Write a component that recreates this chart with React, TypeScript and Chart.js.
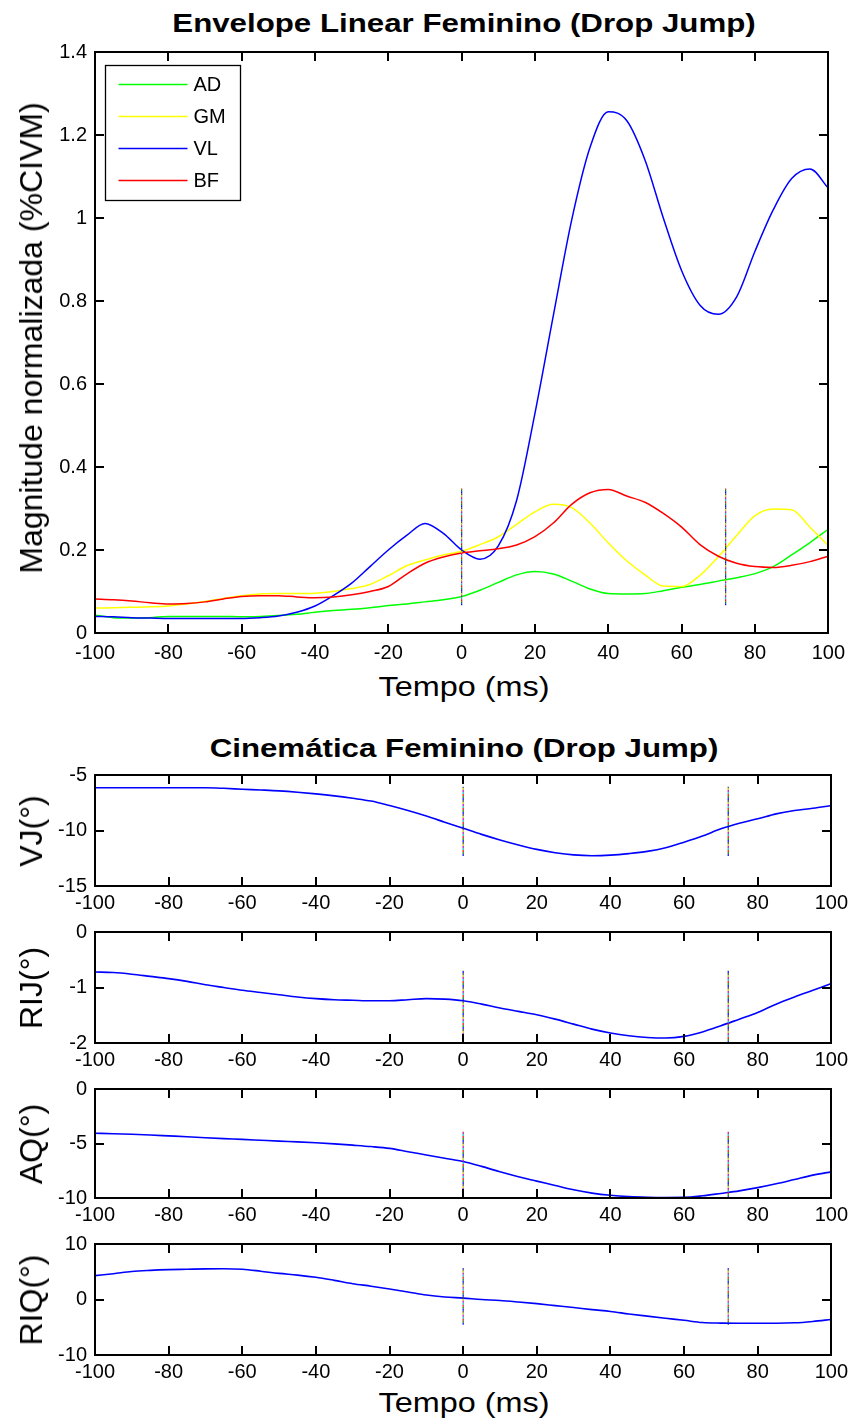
import React, { useEffect, useRef } from 'react';
import { Chart, registerables } from 'chart.js';

Chart.register(...registerables);

const FONT = '"Liberation Sans", Arial, Helvetica, sans-serif';

// ---------- data ----------
const TIME = [-100, -95, -90, -85, -80, -75, -70, -65, -60, -55, -50, -45, -40, -35, -30, -25, -20, -15, -10, -5, 0,
  5, 10, 15, 20, 25, 30, 35, 40, 45, 50, 55, 60, 65, 70, 75, 80, 85, 90, 95, 100];

const AD = [0.043, 0.037, 0.036, 0.037, 0.040, 0.040, 0.040, 0.040, 0.039, 0.040, 0.042, 0.045, 0.050, 0.054, 0.057,
  0.061, 0.066, 0.070, 0.075, 0.080, 0.088, 0.103, 0.122, 0.140, 0.148, 0.142, 0.125, 0.106, 0.095, 0.094, 0.095,
  0.102, 0.110, 0.117, 0.125, 0.133, 0.143, 0.160, 0.188, 0.218, 0.250];
const GM = [0.060, 0.061, 0.062, 0.063, 0.065, 0.070, 0.076, 0.083, 0.090, 0.094, 0.095, 0.095, 0.096, 0.100, 0.107,
  0.117, 0.138, 0.162, 0.176, 0.188, 0.197, 0.213, 0.232, 0.262, 0.292, 0.310, 0.302, 0.265, 0.217, 0.174, 0.140,
  0.113, 0.112, 0.139, 0.184, 0.235, 0.283, 0.299, 0.297, 0.255, 0.210];
const VL = [0.040, 0.039, 0.037, 0.036, 0.035, 0.035, 0.035, 0.035, 0.035, 0.037, 0.041, 0.050, 0.065, 0.090, 0.120,
  0.160, 0.200, 0.235, 0.264, 0.240, 0.200, 0.178, 0.210, 0.320, 0.530, 0.765, 0.995, 1.170, 1.256, 1.235, 1.140,
  1.000, 0.873, 0.790, 0.768, 0.810, 0.920, 1.020, 1.095, 1.118, 1.072];
const BF = [0.082, 0.080, 0.077, 0.073, 0.070, 0.071, 0.075, 0.082, 0.088, 0.090, 0.090, 0.087, 0.085, 0.087, 0.092,
  0.100, 0.112, 0.142, 0.168, 0.183, 0.193, 0.198, 0.203, 0.212, 0.232, 0.265, 0.310, 0.338, 0.346, 0.330, 0.315,
  0.288, 0.255, 0.213, 0.185, 0.168, 0.160, 0.158, 0.163, 0.172, 0.185];

const VJ = [-6.15, -6.15, -6.15, -6.15, -6.15, -6.15, -6.15, -6.2, -6.28, -6.35, -6.43, -6.55, -6.7, -6.88, -7.1,
  -7.35, -7.75, -8.2, -8.7, -9.25, -9.8, -10.35, -10.85, -11.3, -11.7, -12.0, -12.2, -12.27, -12.22, -12.08, -11.88,
  -11.55, -11.05, -10.5, -9.85, -9.35, -8.95, -8.5, -8.2, -8.0, -7.75];
const RIJ = [-0.72, -0.73, -0.76, -0.80, -0.84, -0.89, -0.95, -1.00, -1.05, -1.09, -1.13, -1.17, -1.20, -1.22, -1.23,
  -1.24, -1.24, -1.22, -1.20, -1.21, -1.24, -1.30, -1.37, -1.43, -1.49, -1.57, -1.66, -1.75, -1.82, -1.87, -1.90,
  -1.91, -1.88, -1.80, -1.69, -1.57, -1.45, -1.30, -1.17, -1.05, -0.93];
const AQ = [-4.06, -4.10, -4.15, -4.22, -4.30, -4.38, -4.47, -4.55, -4.62, -4.70, -4.78, -4.85, -4.93, -5.03, -5.15,
  -5.28, -5.45, -5.75, -6.05, -6.35, -6.65, -7.10, -7.60, -8.05, -8.45, -8.85, -9.25, -9.55, -9.75, -9.87, -9.93,
  -9.95, -9.94, -9.80, -9.58, -9.35, -9.05, -8.70, -8.30, -7.90, -7.60];
const RIQ = [4.3, 4.65, 5.05, 5.25, 5.38, 5.45, 5.52, 5.55, 5.45, 5.1, 4.7, 4.4, 4.0, 3.45, 2.85, 2.4, 1.9, 1.35, 0.8,
  0.45, 0.25, 0.0, -0.18, -0.45, -0.75, -1.1, -1.45, -1.83, -2.15, -2.6, -3.0, -3.38, -3.75, -4.15, -4.25, -4.27,
  -4.27, -4.27, -4.2, -3.95, -3.6];

// event marker lines (contact / take-off)
const EVENT_TIMES = [0, 72];
const MAIN_EVENT_RANGE = [0.067, 0.348];
const VJ_EVENT_RANGE = [-12.3, -6.05];
const RIJ_EVENT_RANGE = [-2.0, -0.7];
const AQ_EVENT_RANGE = [-10, -3.9];
const RIQ_EVENT_RANGE = [-4.57, 5.67];
const MARKER_COLORS = ['#0000ff', '#008000', '#ff0000', '#00bfbf', '#bf00bf', '#bfbf00', '#404040'];

// tick labels
const X_TICKS = [-100, -80, -60, -40, -20, 0, 20, 40, 60, 80, 100];
const MAIN_Y_TICKS = [0, 0.2, 0.4, 0.6, 0.8, 1, 1.2, 1.4];
const VJ_Y_TICKS = [-15, -10, -5];
const RIJ_Y_TICKS = [-2, -1, 0];
const AQ_Y_TICKS = [-10, -5, 0];
const RIQ_Y_TICKS = [-10, 0, 10];

const MUSCLE_NAMES = ['AD', 'GM', 'VL', 'BF'];
const MUSCLE_COLORS = ['#00ff00', '#ffff00', '#0000ff', '#ff0000'];
const MUSCLE_SERIES = [AD, GM, VL, BF];

// ---------- helpers ----------
function series(values: number[]) {
  return TIME.map((t, i) => ({ x: t, y: values[i] }));
}

function markerDatasets(range: number[]) {
  const [lo, hi] = range;
  return MARKER_COLORS.map((c, i) => ({
    label: '',
    isMarker: true,
    data: [
      { x: EVENT_TIMES[0], y: lo },
      { x: EVENT_TIMES[0], y: hi },
      { x: (EVENT_TIMES[0] + EVENT_TIMES[1]) / 2, y: null },
      { x: EVENT_TIMES[1], y: lo },
      { x: EVENT_TIMES[1], y: hi },
    ],
    borderColor: c,
    borderWidth: 1.2,
    borderDash: [2, 12],
    borderDashOffset: -i * 2,
    pointRadius: 0,
    tension: 0,
    spanGaps: false,
    order: -1,
  }));
}

function makeFramePlugin(yTicks: number[]) {
  return {
    id: 'matlabFrame',
    afterDraw(chart: any) {
      const ctx = chart.ctx as CanvasRenderingContext2D;
      const area = chart.chartArea;
      const xs = chart.scales.x;
      const ys = chart.scales.y;
      const L = Math.round(area.left);
      const R = Math.round(area.right);
      const T = Math.round(area.top);
      const B = Math.round(area.bottom);
      const tl = 9;
      ctx.save();
      ctx.setLineDash([]);
      ctx.fillStyle = '#000';
      // frame (2px)
      ctx.fillRect(L - 1, T - 1, R - L + 2, 2);
      ctx.fillRect(L - 1, B - 1, R - L + 2, 2);
      ctx.fillRect(L - 1, T - 1, 2, B - T + 2);
      ctx.fillRect(R - 1, T - 1, 2, B - T + 2);
      // inward tick marks
      X_TICKS.forEach((v) => {
        const px = Math.round(xs.getPixelForValue(v));
        ctx.fillRect(px - 1, B - tl, 2, tl);
        ctx.fillRect(px - 1, T, 2, tl);
      });
      yTicks.forEach((v) => {
        const py = Math.round(ys.getPixelForValue(v));
        ctx.fillRect(L, py - 1, tl, 2);
        ctx.fillRect(R - tl, py - 1, tl, 2);
      });
      ctx.restore();
    },
  };
}

const boxLegendPlugin = {
  id: 'boxLegend',
  afterDatasetsDraw(chart: any) {
    const { ctx, chartArea } = chart;
    const items = chart.data.datasets.filter((d: any) => !d.isMarker);
    const bx = Math.round(chartArea.left) + 10.5;
    const by = Math.round(chartArea.top) + 13.5;
    const bw = 135;
    const bh = 135;
    ctx.save();
    ctx.fillStyle = '#fff';
    ctx.fillRect(bx, by, bw, bh);
    ctx.strokeStyle = '#000';
    ctx.lineWidth = 1.3;
    ctx.setLineDash([]);
    ctx.strokeRect(bx, by, bw, bh);
    ctx.font = `20px ${FONT}`;
    ctx.textBaseline = 'middle';
    ctx.textAlign = 'left';
    items.forEach((d: any, i: number) => {
      const y = Math.round(by + 18 + i * 32) + 0.5;
      ctx.strokeStyle = d.borderColor;
      ctx.lineWidth = 1.5;
      ctx.beginPath();
      ctx.moveTo(bx + 13, y);
      ctx.lineTo(bx + 82, y);
      ctx.stroke();
      ctx.fillStyle = '#000';
      ctx.fillText(d.label, bx + 88, y + 1);
    });
    ctx.restore();
  },
};

type PlotSpec = {
  top: number;
  height: number;
  padTop: number;
  xAxisHeight: number;
  xLabelPad: number;
  yMin: number;
  yMax: number;
  yTicks: number[];
  datasets: any[];
  legend?: boolean;
};

function Plot({ spec }: { spec: PlotSpec }) {
  const ref = useRef<HTMLCanvasElement>(null);
  useEffect(() => {
    const tickFont = { family: FONT, size: 20 };
    const frame = makeFramePlugin(spec.yTicks);
    const chart = new Chart(ref.current as HTMLCanvasElement, {
      type: 'line',
      data: { datasets: spec.datasets },
      options: {
        animation: false,
        responsive: false,
        devicePixelRatio: 1,
        layout: { padding: { top: spec.padTop, right: 21, bottom: 0, left: 0 } },
        plugins: { legend: { display: false }, tooltip: { enabled: false }, title: { display: false } },
        elements: { point: { radius: 0 }, line: { borderWidth: 1.5 } },
        scales: {
          x: {
            type: 'linear',
            min: -100,
            max: 100,
            afterFit: (s: any) => { s.height = spec.xAxisHeight; },
            afterBuildTicks: (s: any) => { s.ticks = X_TICKS.map((v) => ({ value: v })); },
            ticks: {
              font: tickFont,
              color: '#000',
              padding: spec.xLabelPad,
              maxRotation: 0,
              autoSkip: false,
              callback: (v: any) => String(v),
            },
            grid: { display: false, drawTicks: false },
            border: { display: false },
          },
          y: {
            type: 'linear',
            min: spec.yMin,
            max: spec.yMax,
            afterFit: (s: any) => { s.width = 95; },
            afterBuildTicks: (s: any) => { s.ticks = spec.yTicks.map((v) => ({ value: v })); },
            ticks: {
              font: tickFont,
              color: '#000',
              padding: 8,
              autoSkip: false,
              callback: (v: any) => String(v),
            },
            grid: { display: false, drawTicks: false },
            border: { display: false },
          },
        },
      } as any,
      plugins: spec.legend ? [boxLegendPlugin, frame] : [frame],
    });
    return () => chart.destroy();
  }, []);
  return (
    <canvas
      ref={ref}
      width={853}
      height={spec.height}
      style={{ position: 'absolute', left: 0, top: spec.top, width: 853, height: spec.height }}
    />
  );
}

function blueLine(values: number[]) {
  return {
    label: '',
    data: series(values),
    borderColor: '#0000ff',
    borderWidth: 1.6,
    pointRadius: 0,
    cubicInterpolationMode: 'monotone',
    order: 0,
  };
}

function subSpec(areaTop: number, areaBottom: number, yTicks: number[], values: number[], range: number[]): PlotSpec {
  const padTop = 20;
  const xAxisHeight = 30;
  return {
    top: areaTop - padTop,
    height: areaBottom - areaTop + padTop + xAxisHeight,
    padTop,
    xAxisHeight,
    xLabelPad: 5,
    yMin: yTicks[0],
    yMax: yTicks[yTicks.length - 1],
    yTicks,
    datasets: [blueLine(values), ...markerDatasets(range)],
  };
}

const mainSpec: PlotSpec = {
  top: 0,
  height: 670,
  padTop: 52,
  xAxisHeight: 37,
  xLabelPad: 8,
  yMin: 0,
  yMax: 1.4,
  yTicks: MAIN_Y_TICKS,
  legend: true,
  datasets: [
    ...MUSCLE_NAMES.map((name, i) => ({
      label: name,
      data: series(MUSCLE_SERIES[i]),
      borderColor: MUSCLE_COLORS[i],
      borderWidth: 1.5,
      pointRadius: 0,
      cubicInterpolationMode: 'monotone',
      order: 3 - i,
    })),
    ...markerDatasets(MAIN_EVENT_RANGE),
  ],
};

const SUBPLOTS = [
  { spec: subSpec(775, 886, VJ_Y_TICKS, VJ, VJ_EVENT_RANGE), label: 'VJ(°)' },
  { spec: subSpec(932, 1043, RIJ_Y_TICKS, RIJ, RIJ_EVENT_RANGE), label: 'RIJ(°)' },
  { spec: subSpec(1089, 1198, AQ_Y_TICKS, AQ, AQ_EVENT_RANGE), label: 'AQ(°)' },
  { spec: subSpec(1244, 1355, RIQ_Y_TICKS, RIQ, RIQ_EVENT_RANGE), label: 'RIQ(°)' },
];

function HText({ text, cx, baseline, size, bold, scaleX }: { text: string; cx: number; baseline: number; size: number; bold?: boolean; scaleX: number }) {
  return (
    <div
      style={{
        position: 'absolute',
        left: cx,
        top: baseline - 0.8465 * size,
        fontFamily: FONT,
        fontSize: size,
        lineHeight: `${size}px`,
        fontWeight: bold ? 'bold' : 'normal',
        whiteSpace: 'nowrap',
        color: '#000',
        transform: `translateX(-50%) scaleX(${scaleX})`,
      }}
    >
      {text}
    </div>
  );
}

function VText({ text, cx, cy, size }: { text: string; cx: number; cy: number; size: number }) {
  return (
    <div
      style={{
        position: 'absolute',
        left: cx,
        top: cy,
        fontFamily: FONT,
        fontSize: size,
        lineHeight: `${size}px`,
        whiteSpace: 'nowrap',
        color: '#000',
        transform: 'translate(-50%, -50%) rotate(-90deg)',
      }}
    >
      {text}
    </div>
  );
}

export default function App() {
  return (
    <div style={{ position: 'absolute', left: 0, top: 0, width: 853, height: 1427, background: '#fff', overflow: 'hidden' }}>
      <HText text="Envelope Linear Feminino (Drop Jump)" cx={463.5} baseline={31.7} size={25} bold scaleX={1.25} />
      <Plot spec={mainSpec} />
      <VText text="Magnitude normalizada (%CIVM)" cx={31} cy={338} size={32} />
      <HText text="Tempo (ms)" cx={463.5} baseline={697} size={27} scaleX={1.2} />
      <HText text="Cinemática Feminino (Drop Jump)" cx={463.5} baseline={756.7} size={25} bold scaleX={1.25} />
      {SUBPLOTS.map((p, i) => (
        <React.Fragment key={i}>
          <Plot spec={p.spec} />
          <VText text={p.label} cx={31} cy={(p.spec.top + p.spec.padTop) + (p.spec.height - p.spec.padTop - p.spec.xAxisHeight) / 2} size={32} />
        </React.Fragment>
      ))}
      <HText text="Tempo (ms)" cx={463.5} baseline={1413} size={27} scaleX={1.2} />
    </div>
  );
}
